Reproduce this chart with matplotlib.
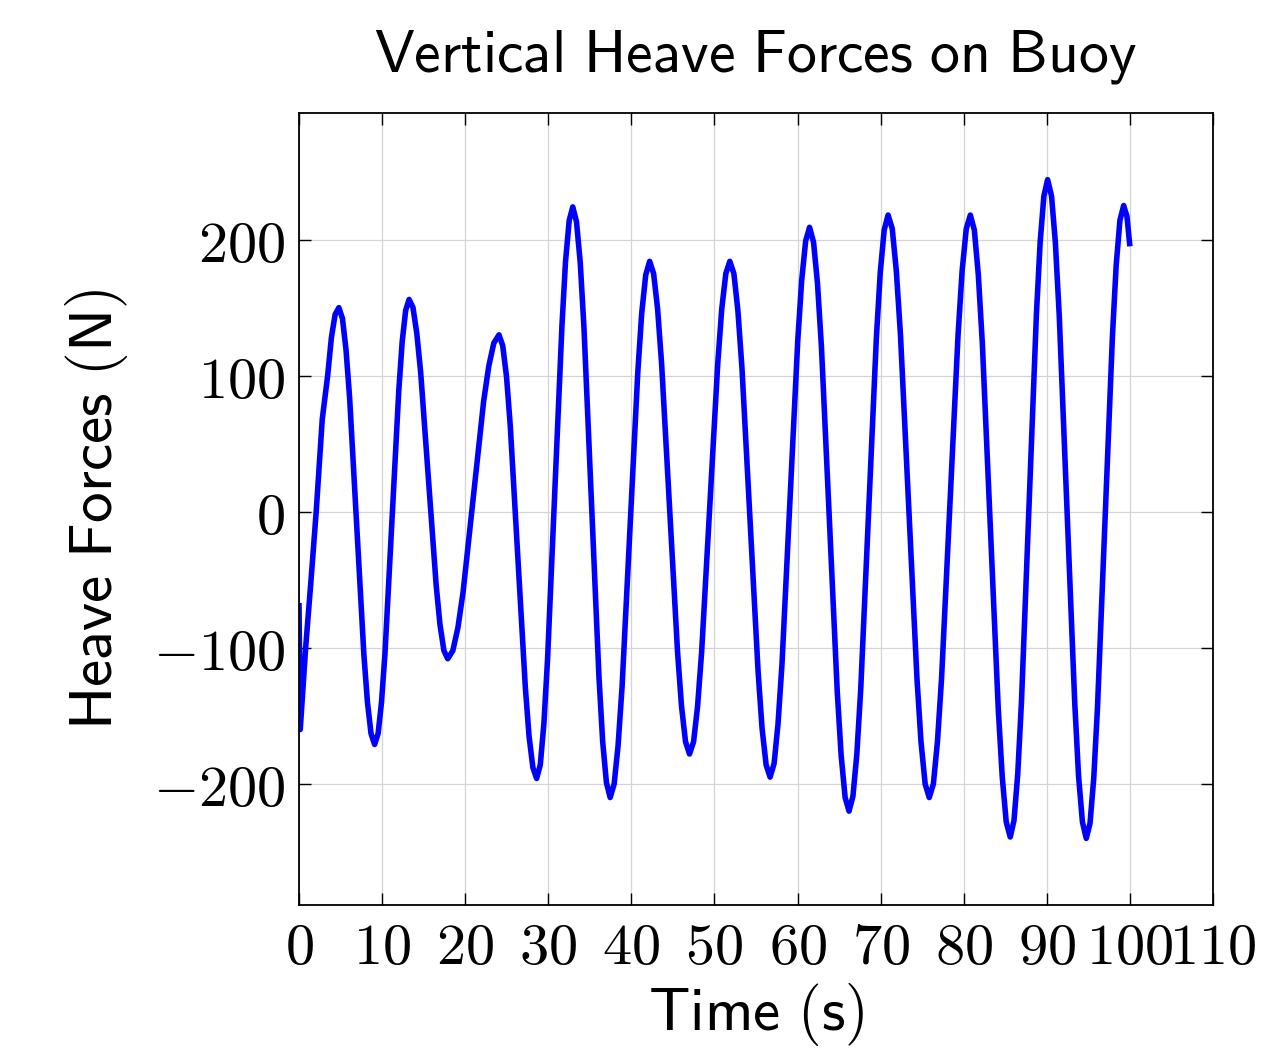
import matplotlib
matplotlib.use("Agg")
import matplotlib.pyplot as plt

plt.rcParams['mathtext.fontset'] = 'cm'

# heave force time series
time = [0.0, 0.15, 0.8, 1.45, 2.07, 2.8, 3.45, 3.9, 4.35, 4.8,
        5.23, 5.66, 6.09, 6.95, 7.81, 8.24, 8.67, 9.1,
        9.52, 9.93, 10.35, 11.18, 12.01, 12.42, 12.84, 13.25,
        13.72, 14.18, 14.65, 15.58, 16.51, 16.97, 17.44, 17.9,
        18.52, 19.13, 19.75, 20.99, 22.22, 22.84, 23.45, 24.07,
        24.52, 24.98, 25.43, 26.34, 27.24, 27.69, 28.15, 28.6,
        29.04, 29.47, 29.91, 30.78, 31.65, 32.08, 32.52, 32.95,
        33.4, 33.85, 34.3, 35.2, 36.1, 36.55, 37.0, 37.45,
        37.93, 38.4, 38.88, 39.83, 40.78, 41.25, 41.73, 42.2,
        42.68, 43.16, 43.64, 44.6, 45.56, 46.04, 46.52, 47.0,
        47.49, 47.97, 48.46, 49.43, 50.4, 50.88, 51.37, 51.85,
        52.34, 52.82, 53.31, 54.28, 55.25, 55.73, 56.22, 56.7,
        57.18, 57.65, 58.13, 59.08, 60.03, 60.5, 60.98, 61.45,
        61.93, 62.4, 62.88, 63.83, 64.78, 65.25, 65.73, 66.2,
        66.67, 67.14, 67.61, 68.55, 69.49, 69.96, 70.43, 70.9,
        71.4, 71.89, 72.39, 73.38, 74.37, 74.86, 75.36, 75.85,
        76.35, 76.84, 77.34, 78.33, 79.32, 79.81, 80.31, 80.8,
        81.28, 81.76, 82.24, 83.2, 84.16, 84.64, 85.12, 85.6,
        86.05, 86.5, 86.95, 87.85, 88.75, 89.2, 89.65, 90.1,
        90.57, 91.03, 91.5, 92.43, 93.36, 93.82, 94.29, 94.75,
        95.2, 95.65, 96.1, 97.0, 97.9, 98.35, 98.8, 99.25,
        99.65, 100.0]

force = [-67, -160, -100, -50, 0, 68, 100, 128, 145, 150,
         142, 119, 84, -10, -105, -140, -163, -171,
         -163, -140, -104, -7, 89, 125, 148, 156,
         150, 131, 102, 24, -54, -83, -102, -108,
         -102, -85, -59, 11, 81, 107, 124, 130,
         122, 99, 63, -33, -129, -165, -188, -196,
         -186, -156, -109, 14, 137, 184, 214, 224,
         213, 183, 135, 7, -121, -169, -199, -210,
         -200, -172, -129, -13, 103, 146, 174, 184,
         175, 149, 109, 3, -103, -143, -169, -178,
         -169, -143, -103, 3, 109, 149, 175, 184,
         175, 148, 106, -6, -117, -159, -186, -195,
         -185, -156, -112, 7, 126, 170, 199, 209,
         198, 168, 121, -6, -132, -179, -210, -220,
         -209, -178, -130, -1, 128, 176, 207, 218,
         208, 177, 130, 4, -122, -169, -200, -210,
         -200, -169, -122, 4, 130, 177, 208, 218,
         207, 174, 124, -11, -145, -195, -228, -239,
         -227, -193, -140, 3, 145, 198, 232, 244,
         232, 198, 144, 2, -140, -194, -228, -240,
         -229, -196, -144, -8, 129, 181, 214, 225,
         217, 195]

xticks = [0, 10, 20, 30, 40, 50, 60, 70, 80, 90, 100, 110]
yticks = [-200, -100, 0, 100, 200]

fig = plt.figure(figsize=(12.68, 10.53), dpi=100)
ax = fig.add_axes([0.2358, 0.1405, 0.7208, 0.7522])

ax.plot(time, force, color='#0000ff', linewidth=4,
        solid_joinstyle='round', solid_capstyle='butt')

ax.set_xlim(0, 110)
ax.set_ylim(-289, 293)

ax.set_xticks(xticks)
ax.set_xticklabels([r'$%d$' % v for v in xticks], fontsize=42)
ax.set_yticks(yticks)
ax.set_yticklabels([r'$%d$' % v for v in yticks], fontsize=42)

ax.tick_params(direction='in', length=8.5, width=1, top=True, right=True, pad=10)
ax.grid(True, color='#d4d4d4', linewidth=0.9)
ax.set_axisbelow(True)
for s in ax.spines.values():
    s.set_linewidth(1.3)

ax.set_title(r'$\mathsf{Vertical\ Heave\ Forces\ on\ Buoy}$', fontsize=43, pad=30)
ax.set_xlabel(r'$\mathsf{Time\ (s)}$', fontsize=44, labelpad=4)
ax.set_ylabel(r'$\mathsf{Heave\ Forces\ (N)}$', fontsize=44, labelpad=16)

fig.savefig('out.png', dpi=100)
